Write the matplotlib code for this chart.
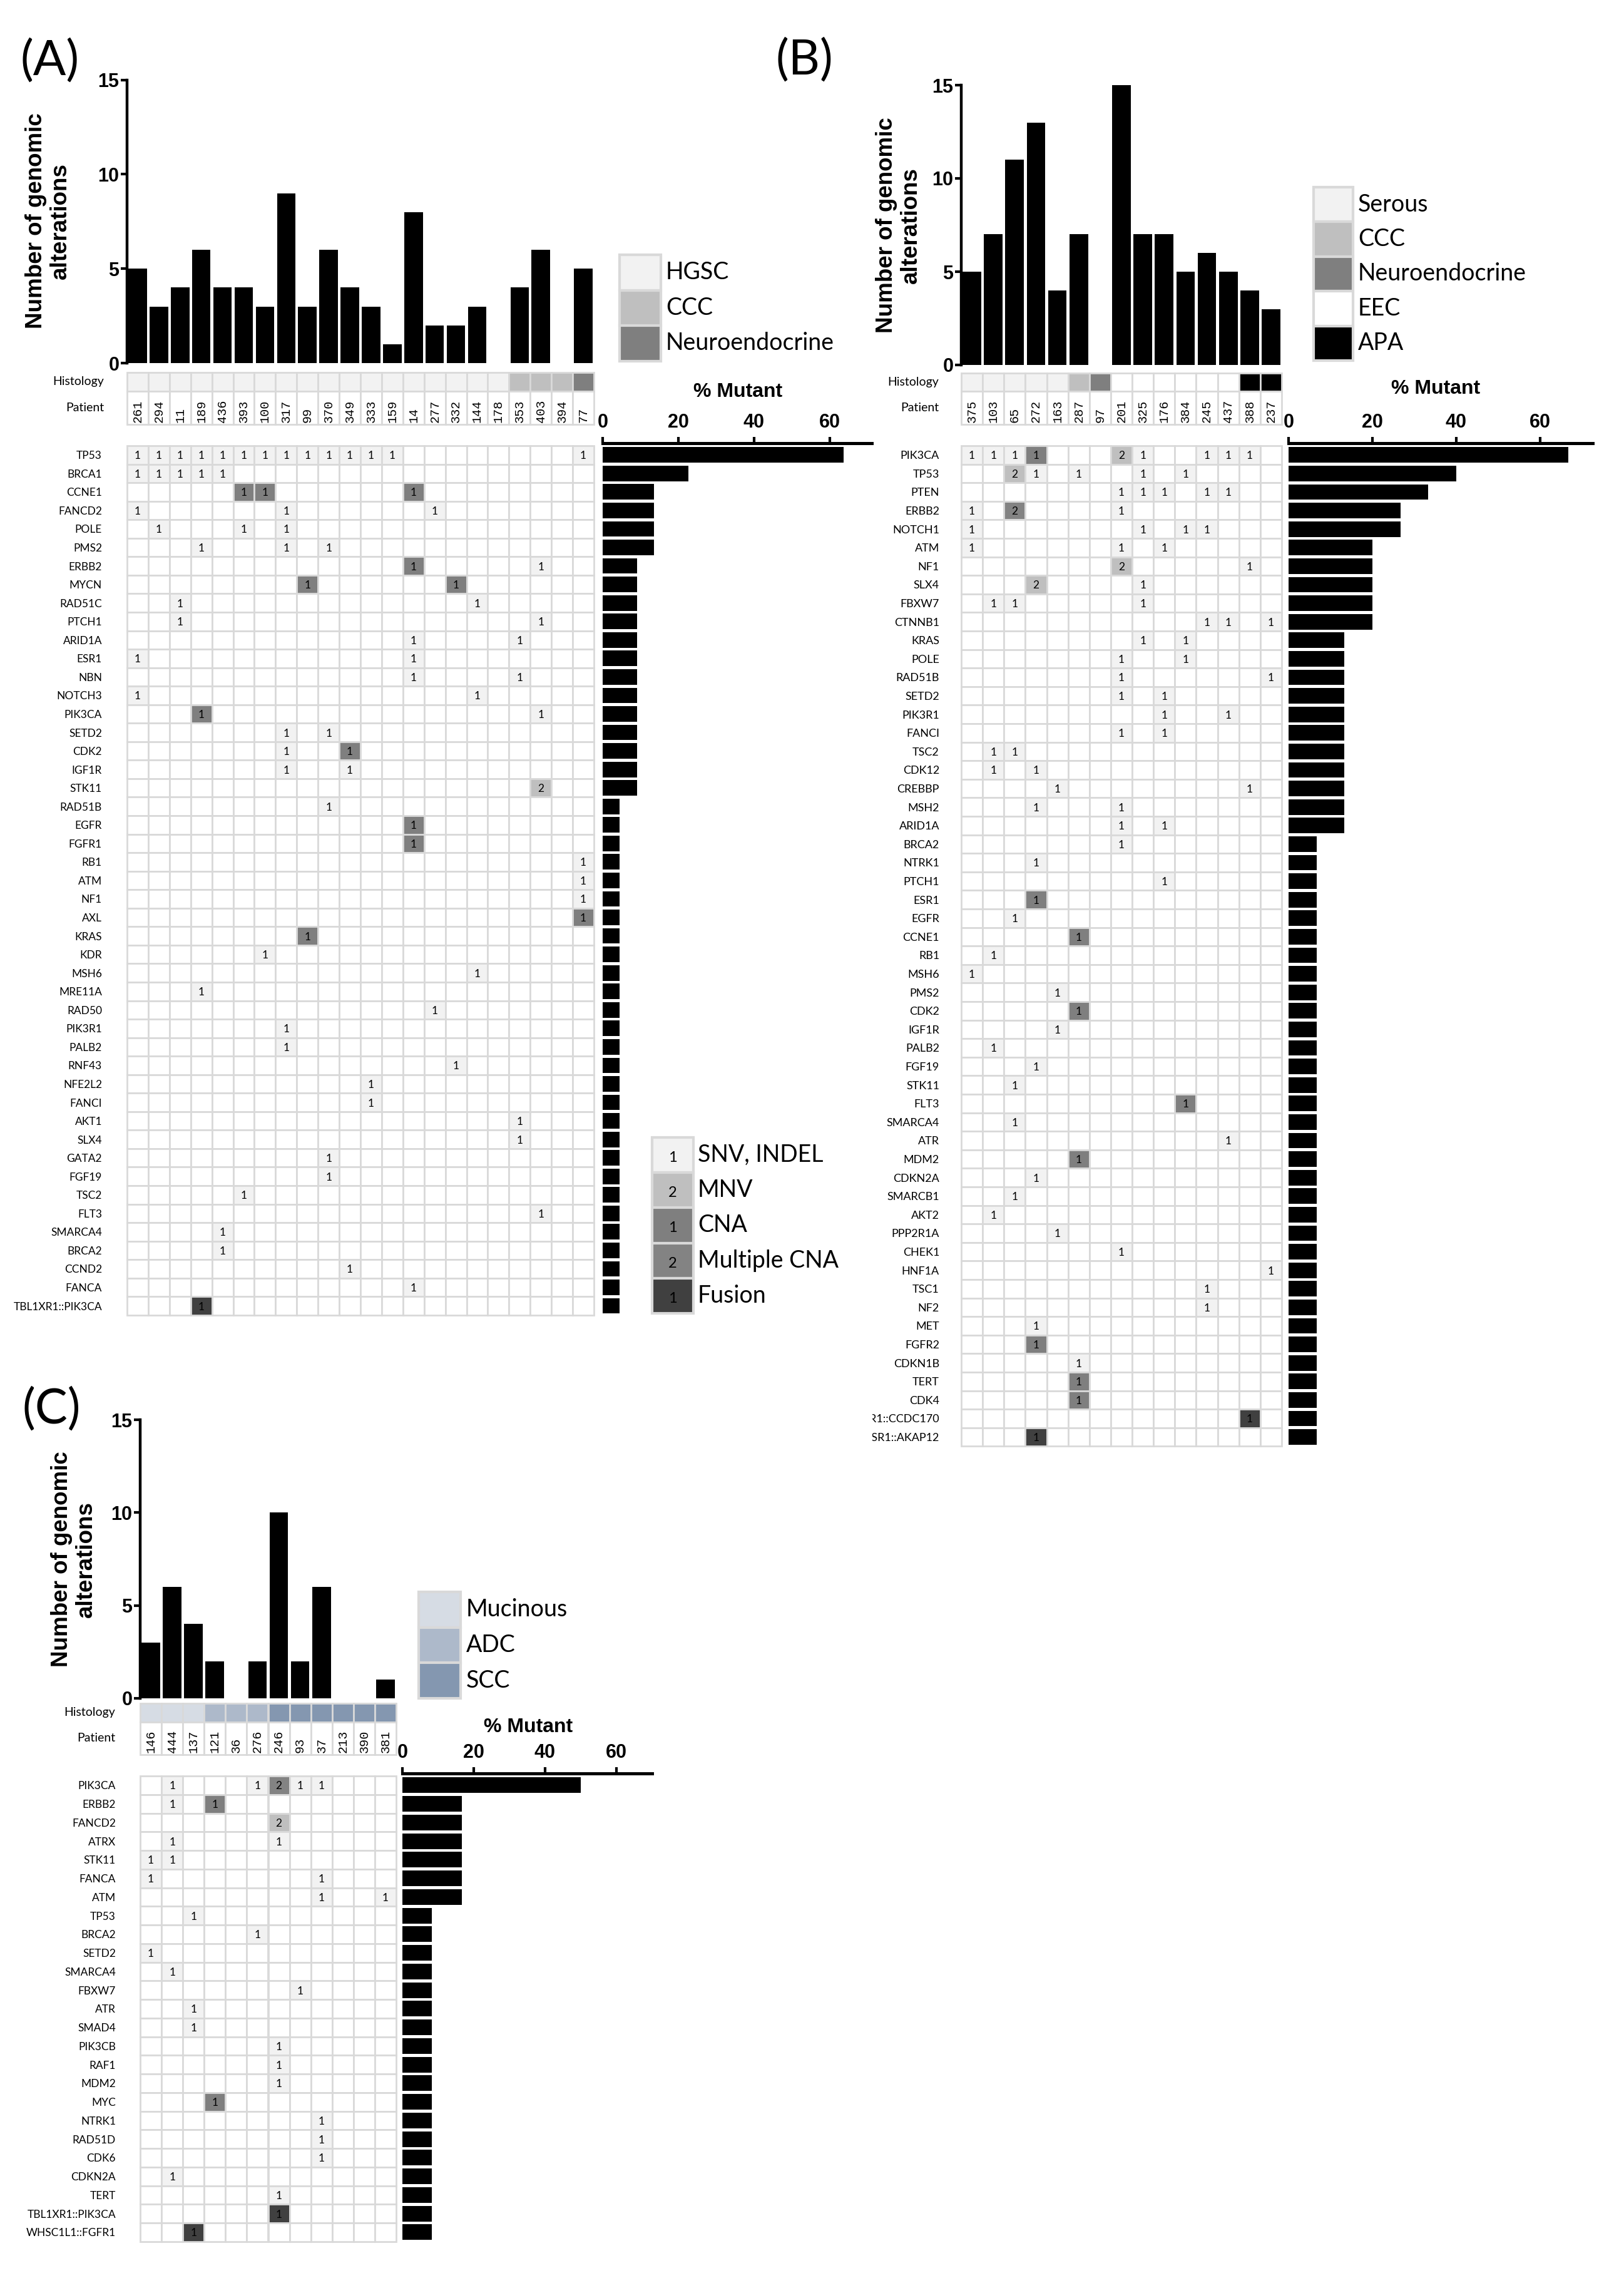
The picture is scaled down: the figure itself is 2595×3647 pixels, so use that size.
import matplotlib
matplotlib.use('Agg')
import matplotlib.pyplot as plt
from matplotlib import font_manager
from matplotlib.patches import Rectangle

W, H, DPI = 2595, 3647, 100

avail = {f.name for f in font_manager.fontManager.ttflist}
BODY = 'Lato' if 'Lato' in avail else 'DejaVu Sans'
BOLD = 'Liberation Sans' if 'Liberation Sans' in avail else 'DejaVu Sans'
MONO = 'Liberation Mono' if 'Liberation Mono' in avail else 'DejaVu Sans Mono'
plt.rcParams['font.family'] = BODY

# ---------------- data ----------------
# cell codes: s = SNV/INDEL (1), m = MNV (2), c = CNA (1), C = multiple CNA (2), f = fusion (1)

# panel A
a_patients = ['261', '294', '11', '189', '436', '393', '100', '317', '99', '370', '349',
              '333', '159', '14', '277', '332', '144', '178', '353', '403', '394', '77']
a_counts = [5, 3, 4, 6, 4, 4, 3, 9, 3, 6, 4, 3, 1, 8, 2, 2, 3, 0, 4, 6, 0, 5]
a_histology = ['HGSC', 'HGSC', 'HGSC', 'HGSC', 'HGSC', 'HGSC', 'HGSC', 'HGSC', 'HGSC',
               'HGSC', 'HGSC', 'HGSC', 'HGSC', 'HGSC', 'HGSC', 'HGSC', 'HGSC', 'HGSC',
               'CCC', 'CCC', 'CCC', 'Neuroendocrine']
a_genes = ['TP53', 'BRCA1', 'CCNE1', 'FANCD2', 'POLE', 'PMS2', 'ERBB2', 'MYCN', 'RAD51C',
           'PTCH1', 'ARID1A', 'ESR1', 'NBN', 'NOTCH3', 'PIK3CA', 'SETD2', 'CDK2', 'IGF1R',
           'STK11', 'RAD51B', 'EGFR', 'FGFR1', 'RB1', 'ATM', 'NF1', 'AXL', 'KRAS', 'KDR',
           'MSH6', 'MRE11A', 'RAD50', 'PIK3R1', 'PALB2', 'RNF43', 'NFE2L2', 'FANCI', 'AKT1',
           'SLX4', 'GATA2', 'FGF19', 'TSC2', 'FLT3', 'SMARCA4', 'BRCA2', 'CCND2', 'FANCA',
           'TBL1XR1::PIK3CA']
a_cells = ['0s 1s 2s 3s 4s 5s 6s 7s 8s 9s 10s 11s 12s 21s', '0s 1s 2s 3s 4s', '5c 6c 13c',
           '0s 7s 14s', '1s 5s 7s', '3s 7s 9s', '13c 19s', '8c 15c', '2s 16s', '2s 19s',
           '13s 18s', '0s 13s', '13s 18s', '0s 16s', '3c 19s', '7s 9s', '7s 10c', '7s 10s',
           '19m', '9s', '13c', '13c', '21s', '21s', '21s', '21c', '8c', '6s', '16s', '3s',
           '14s', '7s', '7s', '15s', '11s', '11s', '18s', '18s', '9s', '9s', '5s', '19s',
           '4s', '4s', '10s', '13s', '3f']
a_pct = [63.6, 22.7, 13.6, 13.6, 13.6, 13.6, 9.1, 9.1, 9.1, 9.1, 9.1, 9.1, 9.1, 9.1, 9.1,
         9.1, 9.1, 9.1, 9.1, 4.5, 4.5, 4.5, 4.5, 4.5, 4.5, 4.5, 4.5, 4.5, 4.5, 4.5, 4.5,
         4.5, 4.5, 4.5, 4.5, 4.5, 4.5, 4.5, 4.5, 4.5, 4.5, 4.5, 4.5, 4.5, 4.5, 4.5, 4.5]

# panel B
b_patients = ['375', '103', '65', '272', '163', '287', '97', '201', '325', '176', '384',
              '245', '437', '388', '237']
b_counts = [5, 7, 11, 13, 4, 7, 0, 15, 7, 7, 5, 6, 5, 4, 3]
b_histology = ['Serous', 'Serous', 'Serous', 'Serous', 'Serous', 'CCC', 'Neuroendocrine',
               'EEC', 'EEC', 'EEC', 'EEC', 'EEC', 'EEC', 'APA', 'APA']
b_genes = ['PIK3CA', 'TP53', 'PTEN', 'ERBB2', 'NOTCH1', 'ATM', 'NF1', 'SLX4', 'FBXW7',
           'CTNNB1', 'KRAS', 'POLE', 'RAD51B', 'SETD2', 'PIK3R1', 'FANCI', 'TSC2', 'CDK12',
           'CREBBP', 'MSH2', 'ARID1A', 'BRCA2', 'NTRK1', 'PTCH1', 'ESR1', 'EGFR', 'CCNE1',
           'RB1', 'MSH6', 'PMS2', 'CDK2', 'IGF1R', 'PALB2', 'FGF19', 'STK11', 'FLT3',
           'SMARCA4', 'ATR', 'MDM2', 'CDKN2A', 'SMARCB1', 'AKT2', 'PPP2R1A', 'CHEK1', 'HNF1A',
           'TSC1', 'NF2', 'MET', 'FGFR2', 'CDKN1B', 'TERT', 'CDK4', 'ESR1::CCDC170',
           'ESR1::AKAP12']
b_cells = ['0s 1s 2s 3c 7m 8s 11s 12s 13s', '2m 3s 5s 8s 10s', '7s 8s 9s 11s 12s',
           '0s 2C 7s', '0s 8s 10s 11s', '0s 7s 9s', '7m 13s', '3m 8s', '1s 2s 8s',
           '11s 12s 14s', '8s 10s', '7s 10s', '7s 14s', '7s 9s', '9s 12s', '7s 9s', '1s 2s',
           '1s 3s', '4s 13s', '3s 7s', '7s 9s', '7s', '3s', '9s', '3c', '2s', '5c',
           '1s', '0s', '4s', '5c', '4s', '1s', '3s', '2s', '10c', '2s', '12s', '5c', '3s',
           '2s', '1s', '4s', '7s', '14s', '11s', '11s', '3s', '3c', '5s', '5c', '5c', '13f',
           '3f']
b_pct = [66.7, 40.0, 33.3, 26.7, 26.7, 20.0, 20.0, 20.0, 20.0, 20.0, 13.3, 13.3, 13.3, 13.3,
         13.3, 13.3, 13.3, 13.3, 13.3, 13.3, 13.3, 6.7, 6.7, 6.7, 6.7, 6.7, 6.7, 6.7, 6.7,
         6.7, 6.7, 6.7, 6.7, 6.7, 6.7, 6.7, 6.7, 6.7, 6.7, 6.7, 6.7, 6.7, 6.7, 6.7, 6.7,
         6.7, 6.7, 6.7, 6.7, 6.7, 6.7, 6.7, 6.7, 6.7]

# panel C
c_patients = ['146', '444', '137', '121', '36', '276', '246', '93', '37', '213', '390', '381']
c_counts = [3, 6, 4, 2, 0, 2, 10, 2, 6, 0, 0, 1]
c_histology = ['Mucinous', 'Mucinous', 'Mucinous', 'ADC', 'ADC', 'ADC', 'SCC', 'SCC', 'SCC',
               'SCC', 'SCC', 'SCC']
c_genes = ['PIK3CA', 'ERBB2', 'FANCD2', 'ATRX', 'STK11', 'FANCA', 'ATM', 'TP53', 'BRCA2',
           'SETD2', 'SMARCA4', 'FBXW7', 'ATR', 'SMAD4', 'PIK3CB', 'RAF1', 'MDM2', 'MYC',
           'NTRK1', 'RAD51D', 'CDK6', 'CDKN2A', 'TERT', 'TBL1XR1::PIK3CA', 'WHSC1L1::FGFR1']
c_cells = ['1s 5s 6C 7s 8s', '1s 3c', '6m', '1s 6s', '0s 1s', '0s 8s', '8s 11s', '2s', '5s',
           '0s', '1s', '7s', '2s', '2s', '6s', '6s', '6s', '3c', '8s', '8s', '8s', '1s', '6s',
           '6f', '2f']
c_pct = [50.0, 16.7, 16.7, 16.7, 16.7, 16.7, 16.7, 8.3, 8.3, 8.3, 8.3, 8.3, 8.3, 8.3, 8.3,
         8.3, 8.3, 8.3, 8.3, 8.3, 8.3, 8.3, 8.3, 8.3, 8.3]

mut_types = ['SNV, INDEL', 'MNV', 'CNA', 'Multiple CNA', 'Fusion']
mut_codes = ['s', 'm', 'c', 'C', 'f']

# ---------------- styles ----------------
TYPE_STYLE = {'s': ('#f2f2f2', '1'), 'm': ('#bfbfbf', '2'), 'c': ('#7f7f7f', '1'),
              'C': ('#838383', '2'), 'f': ('#404040', '1')}
EDGE = '#d9d9d9'
HISTO_A = {'HGSC': '#f2f2f2', 'CCC': '#bfbfbf', 'Neuroendocrine': '#7f7f7f'}
HISTO_B = {'Serous': '#f2f2f2', 'CCC': '#bfbfbf', 'Neuroendocrine': '#7f7f7f',
           'EEC': '#ffffff', 'APA': '#000000'}
HISTO_C = {'Mucinous': '#d6dce4', 'ADC': '#adb9ca', 'SCC': '#8497b0'}

GEOM_A = dict(label='(A)', label_xy=(80, 98), grid_x=(203, 949), grid_y0=712, row_h=29.55,
              bar_y=(580, 127.5), histo_y=(595, 625), patient_y=(625, 678),
              ylabel_xy=(77, 353), rowlab_x=166, gene_x=163, gene_clip=0, gene_fs=12.5,
              pct_x0=963, pct_per=6.05, pct_max=71, pct_title_xy=(1179, 626),
              legend=(990, 1056, 407, 56.5, 1064))
GEOM_B = dict(label='(B)', label_xy=(1285, 97), grid_x=(1536, 2048), grid_y0=712, row_h=29.6,
              bar_y=(583, 136), histo_y=(596, 625), patient_y=(625, 678),
              ylabel_xy=(1436, 360), rowlab_x=1500, gene_x=1501, gene_clip=1394, gene_fs=13,
              pct_x0=2059, pct_per=6.7, pct_max=72.5, pct_title_xy=(2294, 621),
              legend=(2099, 2162, 299, 55.4, 2170))
GEOM_C = dict(label='(C)', label_xy=(82, 2252), grid_x=(224, 633), grid_y0=2837, row_h=29.75,
              bar_y=(2713, 2268), histo_y=(2721, 2751), patient_y=(2751, 2803),
              ylabel_xy=(118, 2491), rowlab_x=184, gene_x=185, gene_clip=0, gene_fs=12.5,
              pct_x0=643, pct_per=5.7, pct_max=70, pct_title_xy=(844, 2759),
              legend=(669, 736, 2543, 56.7, 745))


def px_axes(fig, x0, y0, x1, y1):
    # pixel box measured from the top-left corner
    return fig.add_axes([x0 / W, 1 - y1 / H, (x1 - x0) / W, (y1 - y0) / H])


def ftext(fig, x, y, s, **kw):
    return fig.text(x / W, 1 - y / H, s, **kw)


def bold_ticks(labels, size):
    for t in labels:
        t.set_fontfamily(BOLD)
        t.set_fontweight('bold')
        t.set_fontsize(size)


def parse_cells(spec):
    return {int(tok[:-1]): tok[-1] for tok in spec.split()}


def draw_legend(fig, box, labels, colors, numbers=None):
    x0, x1, y0, h, tx = box
    n = len(labels)
    ax = px_axes(fig, x0, y0, x1, y0 + n * h)
    ax.set_xlim(0, 1)
    ax.set_ylim(n, 0)
    ax.axis('off')
    for i, (lab, col) in enumerate(zip(labels, colors)):
        ax.add_patch(Rectangle((0, i), 1, 1, facecolor=col, edgecolor=EDGE, lw=3, clip_on=False))
        if numbers:
            ax.text(0.5, i + 0.58, numbers[i], ha='center', va='center', fontsize=17)
        ftext(fig, tx, y0 + (i + 0.5) * h, lab, ha='left', va='center', fontsize=27)


def draw_panel(fig, g, patients, counts, histology, histo_colors, genes, cells, pct):
    n = len(patients)
    nrow = len(genes)
    gx0, gx1 = g['grid_x']
    gy0 = g['grid_y0']
    gy1 = gy0 + nrow * g['row_h']

    ftext(fig, *g['label_xy'], g['label'], fontsize=56, ha='center', va='center')

    # alterations per patient
    b0, b15 = g['bar_y']
    ax = px_axes(fig, gx0, b15, gx1, b0)
    ax.bar(range(n), counts, width=0.87, color='black')
    ax.set_xlim(-0.5, n - 0.5)
    ax.set_ylim(0, 15)
    ax.set_yticks([0, 5, 10, 15])
    ax.set_xticks([])
    for s in ('top', 'right', 'bottom'):
        ax.spines[s].set_visible(False)
    ax.spines['left'].set_linewidth(3.2)
    ax.tick_params(axis='y', length=7, width=3, pad=2)
    bold_ticks(ax.get_yticklabels(), 22)
    ax.patch.set_visible(False)
    ftext(fig, *g['ylabel_xy'], 'Number of genomic\nalterations', rotation=90, ha='center',
          va='center', fontsize=26.5, fontweight='bold', family=BOLD, linespacing=1.15)

    # histology strip
    hy0, hy1 = g['histo_y']
    ax = px_axes(fig, gx0, hy0, gx1, hy1)
    ax.set_xlim(0, n)
    ax.set_ylim(1, 0)
    ax.axis('off')
    for i, h in enumerate(histology):
        ax.add_patch(Rectangle((i, 0), 1, 1, facecolor=histo_colors[h], edgecolor=EDGE,
                               lw=2, clip_on=False))
    ftext(fig, g['rowlab_x'], (hy0 + hy1) / 2, 'Histology', ha='right', va='center', fontsize=14)

    # patient ids
    py0, py1 = g['patient_y']
    ax = px_axes(fig, gx0, py0, gx1, py1)
    ax.set_xlim(0, n)
    ax.set_ylim(1, 0)
    ax.axis('off')
    for i, p in enumerate(patients):
        ax.add_patch(Rectangle((i, 0), 1, 1, facecolor='white', edgecolor=EDGE, lw=2,
                               clip_on=False))
        ax.text(i + 0.5, 0.95, p, rotation=90, ha='center', va='bottom', family=MONO,
                fontsize=14.5)
    ftext(fig, g['rowlab_x'], (py0 + py1) / 2, 'Patient', ha='right', va='center', fontsize=14)

    # alteration grid
    ax = px_axes(fig, gx0, gy0, gx1, gy1)
    ax.set_xlim(0, n)
    ax.set_ylim(nrow, 0)
    ax.axis('off')
    for r, spec in enumerate(cells):
        filled = parse_cells(spec)
        for c in range(n):
            code = filled.get(c)
            fc = TYPE_STYLE[code][0] if code else 'white'
            ax.add_patch(Rectangle((c, r), 1, 1, facecolor=fc, edgecolor=EDGE, lw=2,
                                   clip_on=False))
            if code:
                ax.text(c + 0.5, r + 0.55, TYPE_STYLE[code][1], ha='center', va='center',
                        fontsize=12.5)

    # gene names (clipped on the left for panel B)
    lx0 = g['gene_clip']
    ax = px_axes(fig, lx0, gy0, gx0, gy1)
    ax.set_xlim(lx0, gx0)
    ax.set_ylim(nrow, 0)
    ax.axis('off')
    for r, gene in enumerate(genes):
        ax.text(g['gene_x'], r + 0.55, gene, ha='right', va='center', fontsize=g['gene_fs'],
                clip_on=True)

    # % mutant
    px0 = g['pct_x0']
    px1 = px0 + g['pct_max'] * g['pct_per']
    ax = px_axes(fig, px0, gy0, px1, gy1)
    ax.barh([r + 0.5 for r in range(nrow)], pct, height=0.84, color='black')
    ax.set_xlim(0, g['pct_max'])
    ax.set_ylim(nrow, 0)
    ax.xaxis.tick_top()
    ax.set_xticks([0, 20, 40, 60])
    ax.set_yticks([])
    for s in ('bottom', 'right', 'left'):
        ax.spines[s].set_visible(False)
    ax.spines['top'].set_linewidth(3.6)
    ax.spines['top'].set_position(('outward', 3))
    ax.tick_params(axis='x', length=7, width=3, pad=6, direction='out')
    bold_ticks(ax.get_xticklabels(), 22)
    ax.patch.set_visible(False)
    ftext(fig, *g['pct_title_xy'], '% Mutant', ha='center', va='center', fontsize=23,
          fontweight='bold', family=BOLD)

    draw_legend(fig, g['legend'], list(histo_colors), list(histo_colors.values()))


fig = plt.figure(figsize=(W / DPI, H / DPI), dpi=DPI)
fig.patch.set_facecolor('white')

draw_panel(fig, GEOM_A, a_patients, a_counts, a_histology, HISTO_A, a_genes, a_cells, a_pct)
draw_panel(fig, GEOM_B, b_patients, b_counts, b_histology, HISTO_B, b_genes, b_cells, b_pct)
draw_panel(fig, GEOM_C, c_patients, c_counts, c_histology, HISTO_C, c_genes, c_cells, c_pct)

draw_legend(fig, (1042, 1108, 1817, 56.2, 1115), mut_types,
            [TYPE_STYLE[k][0] for k in mut_codes], [TYPE_STYLE[k][1] for k in mut_codes])

fig.savefig('out.png', dpi=DPI)
